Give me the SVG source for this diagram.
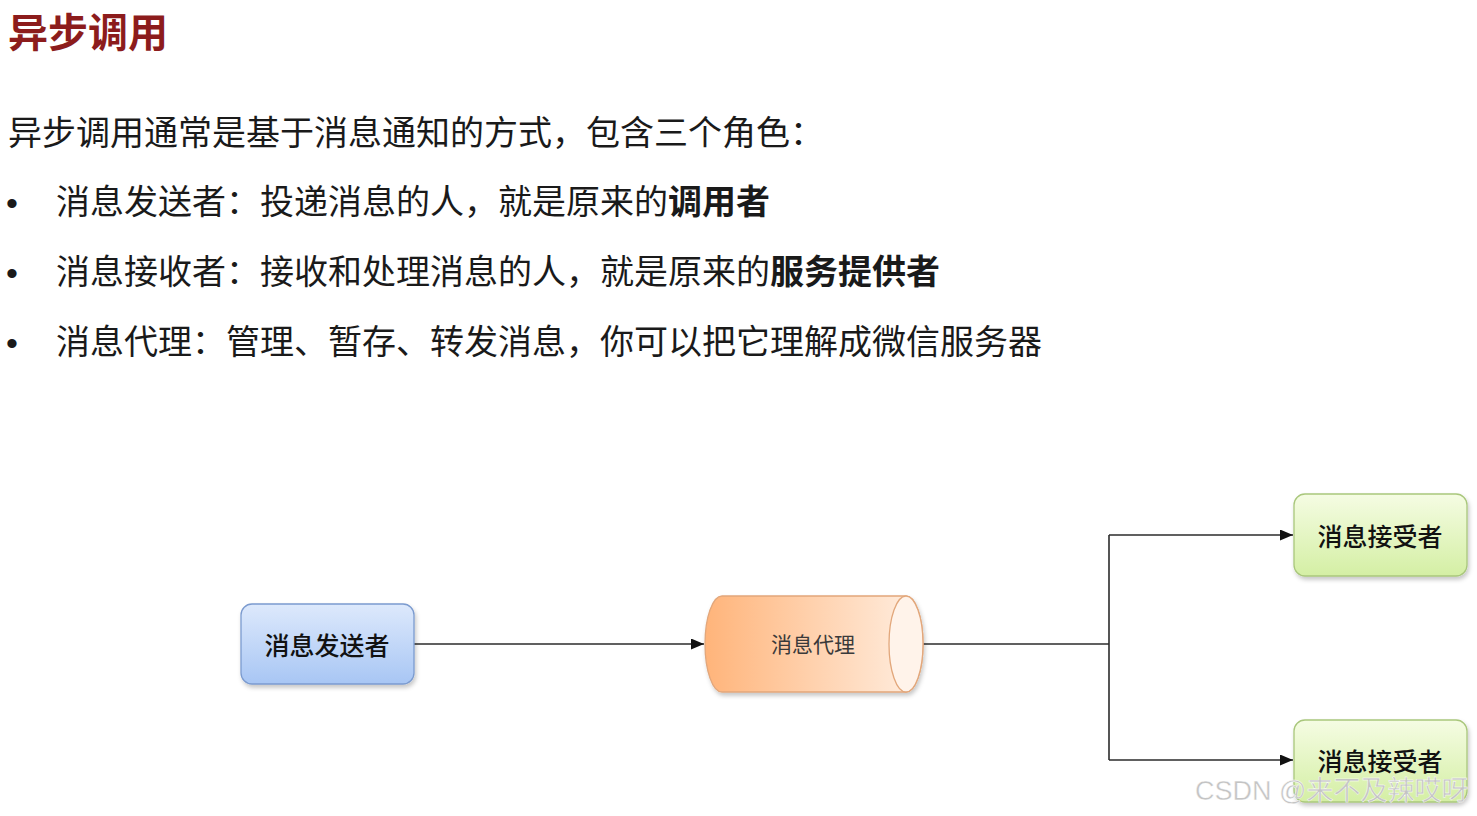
<svg xmlns="http://www.w3.org/2000/svg" width="1477" height="816" viewBox="0 0 1477 816">
<style>
.cjk{font-family:"Noto Sans CJK SC","Noto Sans",sans-serif;}
.body{font-size:34px;fill:#1a1a1a;}
.bullet{font-family:"Liberation Sans","DejaVu Sans",sans-serif;font-size:34px;fill:#1a1a1a;}
.node-label{font-size:25px;font-weight:500;fill:#111;text-anchor:middle;dominant-baseline:central;}
.conn{stroke:#2b2b2b;stroke-width:1.6;fill:none;}
</style>
<defs>
<linearGradient id="gBlue" x1="0" y1="0" x2="0" y2="1">
<stop offset="0" stop-color="#dde9fc"/>
<stop offset="1" stop-color="#a8c6f4"/>
</linearGradient>
<linearGradient id="gGreen" x1="0" y1="0" x2="0" y2="1">
<stop offset="0" stop-color="#f5fce3"/>
<stop offset="1" stop-color="#d4efa4"/>
</linearGradient>
<linearGradient id="gOrange" x1="0" y1="0" x2="1" y2="0">
<stop offset="0" stop-color="#ffb47a"/>
<stop offset="1" stop-color="#ffefe2"/>
</linearGradient>
<filter id="shadow" x="-10%" y="-10%" width="130%" height="140%">
<feDropShadow dx="1.5" dy="3" stdDeviation="2" flood-color="#000" flood-opacity="0.22"/>
</filter>
<marker id="arrow" viewBox="0 0 13 11" refX="13" refY="5.5" markerWidth="13" markerHeight="11" markerUnits="userSpaceOnUse" orient="auto">
<path d="M0,0 L13,5.5 L0,11 Z" fill="#111"/>
</marker>
</defs>
<rect width="1477" height="816" fill="#ffffff"/>

<g id="text-block" class="cjk">
<text x="8" y="46.5" font-size="40" font-weight="700" fill="#8c1c1c">异步调用</text>
<text class="body" x="8" y="145">异步调用通常是基于消息通知的方式，包含三个角色：</text>
<text class="bullet" x="6" y="215">•</text>
<text class="body" x="56" y="214">消息发送者：投递消息的人，就是原来的<tspan font-weight="700">调用者</tspan></text>
<text class="bullet" x="6" y="285">•</text>
<text class="body" x="56" y="284">消息接收者：接收和处理消息的人，就是原来的<tspan font-weight="700">服务提供者</tspan></text>
<text class="bullet" x="6" y="355">•</text>
<text class="body" x="56" y="354">消息代理：管理、暂存、转发消息，你可以把它理解成微信服务器</text>
</g>

<g id="connectors">
<line class="conn" x1="414" y1="644" x2="704" y2="644" marker-end="url(#arrow)"/>
<polyline class="conn" points="923,644 1109,644"/>
<polyline class="conn" points="1109,535 1109,760"/>
<line class="conn" x1="1109" y1="535" x2="1293" y2="535" marker-end="url(#arrow)"/>
<line class="conn" x1="1109" y1="760" x2="1293" y2="760" marker-end="url(#arrow)"/>
</g>

<g id="node-sender">
<rect x="241" y="604" width="173" height="80" rx="11" fill="url(#gBlue)" stroke="#7b9bcf" stroke-width="1.3" filter="url(#shadow)"/>
<text class="cjk node-label" x="327" y="644">消息发送者</text>
</g>

<g id="node-broker">
<path d="M722,596 L906,596 A17,48 0 0 1 906,692 L722,692 A17,48 0 0 1 722,596 Z" fill="url(#gOrange)" stroke="#e2a77b" stroke-width="1.3" filter="url(#shadow)"/>
<ellipse cx="906" cy="644" rx="17" ry="48" fill="#fff3ea" stroke="#e2a77b" stroke-width="1.3"/>
<text class="cjk" x="813" y="643" font-size="21" fill="#3a3a3a" text-anchor="middle" dominant-baseline="central">消息代理</text>
</g>

<g id="node-receiver-1">
<rect x="1294" y="494" width="173" height="82" rx="11" fill="url(#gGreen)" stroke="#a9c77c" stroke-width="1.3" filter="url(#shadow)"/>
<text class="cjk node-label" x="1380" y="535">消息接受者</text>
</g>

<g id="node-receiver-2">
<rect x="1294" y="720" width="173" height="82" rx="11" fill="url(#gGreen)" stroke="#a9c77c" stroke-width="1.3" filter="url(#shadow)"/>
<text class="cjk node-label" x="1380" y="760">消息接受者</text>
</g>

<g id="watermark">
<text x="1195" y="800" font-size="27" fill="#c4c4c4" stroke="#ffffff" stroke-width="0.4" style="font-family:'Liberation Sans','Noto Sans CJK SC',sans-serif">CSDN @来不及辣哎呀</text>
</g>
</svg>
